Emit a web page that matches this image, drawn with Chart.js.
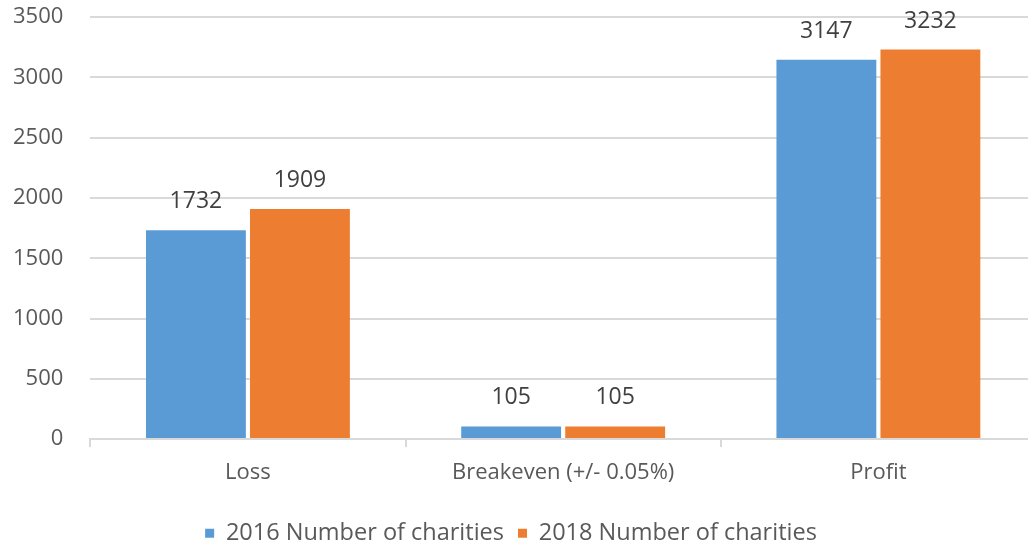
<!DOCTYPE html>
<html>
<head>
<meta charset="utf-8">
<script src="https://cdn.jsdelivr.net/npm/chart.js@4/dist/chart.umd.min.js"></script>
<style>
  html, body { margin: 0; padding: 0; background: #fff; overflow: hidden; width: 1028px; height: 546px; position: relative; }
  #wrap { position: absolute; left: -22px; top: -23px; width: 1058px; height: 569px; }
</style>
</head>
<body>
<div id="wrap"><canvas id="chart"></canvas></div>
<script>
// ---- Data ----
const categories = ['Loss', 'Breakeven (+/- 0.05%)', 'Profit'];
const charities2016 = [1732, 105, 3147];
const charities2018 = [1909, 105, 3232];
const seriesNames = ['2016 Number of charities', '2018 Number of charities'];

const FONT = "'Open Sans', 'Liberation Sans', sans-serif";

// value labels above each bar
const barLabels = {
  id: 'barLabels',
  afterDatasetsDraw(chart) {
    const ctx = chart.ctx;
    ctx.save();
    ctx.font = '23px ' + FONT;
    ctx.fillStyle = '#404040';
    ctx.textAlign = 'center';
    ctx.textBaseline = 'alphabetic';
    chart.data.datasets.forEach((ds, i) => {
      chart.getDatasetMeta(i).data.forEach((bar, j) => {
        ctx.fillText(ds.data[j], bar.x, bar.y - 22);
      });
    });
    ctx.restore();
  }
};

new Chart(document.getElementById('chart'), {
  type: 'bar',
  data: {
    labels: categories,
    datasets: [
      { label: seriesNames[0], data: charities2016, backgroundColor: '#5B9BD5' },
      { label: seriesNames[1], data: charities2018, backgroundColor: '#ED7D31' }
    ]
  },
  options: {
    responsive: true,
    maintainAspectRatio: false,
    animation: false,
    categoryPercentage: 0.66,
    barPercentage: 0.96,
    layout: { padding: { top: -11, left: 8, right: 0, bottom: -9 } },
    plugins: {
      legend: {
        position: 'bottom',
        labels: {
          font: { family: FONT, size: 23.5 },
          color: '#595959',
          boxWidth: 9,
          boxHeight: 9,
          padding: 14
        }
      },
      tooltip: { enabled: false }
    },
    scales: {
      x: {
        grid: { offset: true, drawOnChartArea: false, color: '#d9d9d9', tickLength: 8, lineWidth: 2 },
        border: { color: '#d9d9d9', width: 2 },
        ticks: { font: { family: FONT, size: 22 }, color: '#595959', padding: 12 },
        afterFit(scale) { scale.height += 10; }
      },
      y: {
        min: 0,
        max: 3500,
        ticks: {
          stepSize: 500,
          font: { family: FONT, size: 22 },
          color: '#595959',
          padding: 27,
          callback: v => String(v)
        },
        grid: { color: '#d9d9d9', lineWidth: 2, drawTicks: false },
        border: { display: false }
      }
    }
  },
  plugins: [barLabels]
});
</script>
</body>
</html>
